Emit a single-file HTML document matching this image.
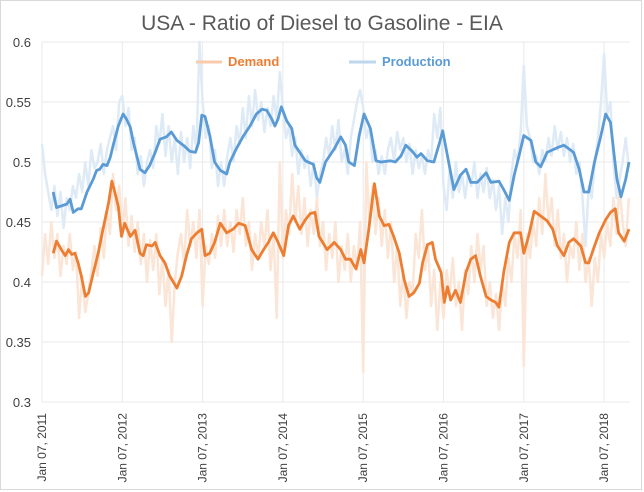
<!DOCTYPE html>
<html><head><meta charset="utf-8"><style>
html,body{margin:0;padding:0;background:#fff;}
svg{display:block;font-family:"Liberation Sans",sans-serif;}
</style></head><body>
<svg id="chart" width="644" height="492" viewBox="0 0 644 492">
<rect x="0.5" y="0.5" width="641" height="489" fill="#fff" stroke="#d9d9d9"/>
<text x="322" y="30" text-anchor="middle" font-size="21" fill="#595959">USA - Ratio of Diesel to Gasoline - EIA</text>
<g id="grid"></g>
<g id="yticks"></g>
<g id="xticks"></g>
<g id="series"></g>
<g>
<g>
<line x1="196" y1="62" x2="222" y2="62" stroke="#F8CBAD" stroke-width="3"/>
<text x="228" y="66" font-size="13" font-weight="bold" fill="#ED7D31">Demand</text>
</g>
<g>
<line x1="349" y1="62" x2="376" y2="62" stroke="#BDD7EE" stroke-width="3"/>
<text x="382" y="66" font-size="13" font-weight="bold" fill="#5B9BD5">Production</text>
</g>
</g>
</svg>
<script>
const yTicks=[0.3,0.35,0.4,0.45,0.5,0.55,0.6];
const yTickLabels=["0.3","0.35","0.4","0.45","0.5","0.55","0.6"];
const xTickYears=[0,1,2,3,4,5,6,7];
const xTickLabels=["Jan 07, 2011","Jan 07, 2012","Jan 07, 2013","Jan 07, 2014","Jan 07, 2015","Jan 07, 2016","Jan 07, 2017","Jan 07, 2018"];
// raw series, biweekly samples starting Jan 07 2011
const demandRaw=[0.405,0.44,0.415,0.45,0.42,0.44,0.405,0.43,0.415,0.44,0.41,0.425,0.37,0.405,0.375,0.39,0.41,0.43,0.405,0.445,0.42,0.46,0.44,0.49,0.46,0.48,
0.44,0.47,0.43,0.455,0.425,0.45,0.415,0.44,0.40,0.435,0.41,0.44,0.39,0.42,0.38,0.41,0.35,0.40,0.425,0.44,0.415,0.46,0.43,0.45,0.42,0.46,
0.38,0.43,0.415,0.44,0.42,0.455,0.43,0.46,0.43,0.45,0.425,0.46,0.44,0.47,0.43,0.45,0.41,0.44,0.42,0.45,0.43,0.46,0.41,0.44,0.37,0.50,
0.42,0.46,0.44,0.49,0.45,0.48,0.44,0.47,0.43,0.46,0.44,0.47,0.43,0.45,0.41,0.44,0.42,0.45,0.40,0.43,0.41,0.44,0.40,0.43,0.41,0.45,
0.325,0.50,0.45,0.48,0.44,0.47,0.43,0.46,0.42,0.45,0.40,0.43,0.38,0.41,0.37,0.40,0.39,0.44,0.42,0.46,0.41,0.43,0.38,0.41,0.36,0.40,
0.37,0.41,0.39,0.42,0.38,0.40,0.36,0.41,0.39,0.43,0.40,0.44,0.41,0.43,0.38,0.40,0.37,0.39,0.36,0.40,0.38,0.42,0.40,0.44,0.42,0.46,
0.33,0.44,0.42,0.45,0.43,0.47,0.44,0.49,0.45,0.47,0.43,0.46,0.42,0.44,0.40,0.43,0.42,0.45,0.41,0.44,0.40,0.42,0.38,0.42,0.40,0.44,
0.42,0.45,0.43,0.47,0.44,0.48,0.45,0.43,0.47];
const productionRaw=[0.515,0.49,0.475,0.46,0.48,0.455,0.475,0.445,0.47,0.46,0.48,0.47,0.49,0.475,0.50,0.48,0.51,0.495,0.50,0.515,0.49,0.51,0.52,0.53,0.51,0.55,
0.555,0.53,0.545,0.51,0.52,0.49,0.505,0.48,0.50,0.51,0.495,0.53,0.515,0.54,0.505,0.53,0.50,0.52,0.49,0.525,0.50,0.52,0.495,0.53,0.51,0.60,
0.55,0.52,0.53,0.495,0.51,0.48,0.50,0.48,0.505,0.52,0.50,0.53,0.515,0.545,0.52,0.555,0.53,0.56,0.535,0.55,0.525,0.545,0.53,0.555,0.535,0.575,
0.545,0.52,0.53,0.505,0.52,0.49,0.51,0.495,0.505,0.48,0.50,0.47,0.49,0.50,0.52,0.505,0.53,0.51,0.535,0.50,0.51,0.49,0.52,0.535,0.55,0.56,
0.545,0.52,0.53,0.50,0.51,0.49,0.505,0.49,0.51,0.52,0.50,0.525,0.51,0.52,0.50,0.515,0.49,0.51,0.495,0.505,0.49,0.51,0.50,0.54,0.52,0.545,
0.48,0.46,0.495,0.47,0.50,0.475,0.49,0.47,0.49,0.48,0.50,0.47,0.49,0.475,0.495,0.47,0.485,0.46,0.48,0.44,0.47,0.45,0.49,0.51,0.50,0.525,
0.58,0.53,0.52,0.50,0.505,0.49,0.51,0.50,0.52,0.505,0.53,0.51,0.525,0.505,0.52,0.50,0.515,0.49,0.50,0.47,0.43,0.48,0.47,0.50,0.52,0.55,
0.59,0.54,0.55,0.50,0.47,0.485,0.50,0.52,0.495];
// smoothed series: time in years since Jan 07 2011, values
const prodAvgT=[0.14,0.18,0.31,0.35,0.39,0.45,0.49,0.56,0.64,0.68,0.72,0.76,0.81,0.85,0.89,0.95,1.01,1.05,1.10,1.14,1.18,1.22,1.28,1.34,1.41,1.47,1.55,1.61,1.68,1.76,1.84,1.91,1.95,1.99,2.03,2.09,2.15,2.22,2.30,2.34,2.42,2.51,2.59,2.67,2.74,2.80,2.86,2.90,2.94,2.98,3.05,3.11,3.15,3.21,3.28,3.38,3.42,3.46,3.53,3.64,3.72,3.78,3.82,3.89,3.95,4.01,4.09,4.16,4.22,4.34,4.40,4.47,4.53,4.61,4.67,4.72,4.80,4.88,4.95,4.99,5.05,5.13,5.21,5.28,5.34,5.42,5.53,5.59,5.69,5.75,5.82,5.88,5.94,6.00,6.09,6.15,6.21,6.29,6.42,6.50,6.56,6.62,6.69,6.75,6.81,6.88,6.96,7.02,7.08,7.12,7.16,7.21,7.27,7.31];
const prodAvg=[0.475,0.462,0.465,0.469,0.458,0.461,0.461,0.475,0.486,0.493,0.494,0.498,0.497,0.504,0.515,0.530,0.540,0.536,0.529,0.516,0.505,0.494,0.491,0.497,0.508,0.519,0.521,0.525,0.518,0.514,0.509,0.508,0.516,0.539,0.538,0.522,0.500,0.493,0.490,0.500,0.511,0.522,0.530,0.540,0.544,0.543,0.536,0.530,0.536,0.546,0.534,0.528,0.514,0.508,0.501,0.498,0.487,0.483,0.500,0.511,0.521,0.514,0.500,0.497,0.522,0.540,0.528,0.501,0.500,0.501,0.500,0.505,0.514,0.509,0.504,0.507,0.501,0.500,0.516,0.526,0.505,0.477,0.489,0.494,0.483,0.483,0.491,0.483,0.484,0.477,0.468,0.489,0.505,0.522,0.518,0.500,0.496,0.508,0.512,0.514,0.511,0.508,0.494,0.475,0.475,0.500,0.522,0.540,0.533,0.509,0.486,0.471,0.486,0.500];
const demAvgT=[0.14,0.18,0.24,0.29,0.33,0.37,0.41,0.45,0.49,0.54,0.58,0.64,0.70,0.76,0.83,0.87,0.91,0.95,0.99,1.03,1.10,1.16,1.22,1.26,1.30,1.37,1.41,1.47,1.53,1.59,1.68,1.74,1.80,1.86,1.93,1.99,2.03,2.09,2.15,2.22,2.30,2.38,2.45,2.53,2.61,2.69,2.76,2.82,2.88,2.94,3.01,3.07,3.13,3.21,3.28,3.34,3.40,3.45,3.55,3.64,3.72,3.78,3.84,3.91,3.97,4.01,4.07,4.14,4.20,4.26,4.32,4.38,4.45,4.51,4.57,4.63,4.70,4.74,4.80,4.86,4.90,4.97,5.01,5.05,5.09,5.15,5.21,5.28,5.34,5.40,5.46,5.53,5.59,5.65,5.69,5.75,5.82,5.88,5.96,6.00,6.06,6.13,6.21,6.29,6.36,6.42,6.50,6.56,6.62,6.71,6.77,6.81,6.88,6.94,7.02,7.08,7.14,7.18,7.25,7.31];
const demAvg=[0.424,0.434,0.427,0.422,0.427,0.423,0.424,0.416,0.405,0.388,0.391,0.408,0.424,0.444,0.466,0.484,0.474,0.463,0.438,0.449,0.438,0.443,0.424,0.422,0.431,0.430,0.433,0.422,0.416,0.405,0.395,0.405,0.422,0.436,0.441,0.444,0.422,0.424,0.433,0.449,0.441,0.444,0.449,0.447,0.427,0.419,0.427,0.433,0.441,0.433,0.422,0.447,0.455,0.444,0.452,0.457,0.458,0.438,0.427,0.433,0.427,0.419,0.419,0.411,0.427,0.416,0.444,0.482,0.455,0.447,0.448,0.438,0.424,0.402,0.388,0.391,0.399,0.416,0.431,0.433,0.419,0.408,0.383,0.396,0.385,0.393,0.383,0.408,0.419,0.422,0.405,0.388,0.385,0.383,0.379,0.408,0.433,0.441,0.441,0.424,0.438,0.459,0.455,0.451,0.444,0.430,0.422,0.433,0.436,0.430,0.416,0.416,0.430,0.441,0.452,0.458,0.461,0.441,0.434,0.444];

const NS="http://www.w3.org/2000/svg";
const X0=42,PX_PER_YEAR=80.3,Y0=402,PX_PER_UNIT=1200;
function xScale(t){return X0+t*PX_PER_YEAR;}
function yScale(v){return Y0-(v-0.3)*PX_PER_UNIT;}
function mk(tag,attrs,parent){const e=document.createElementNS(NS,tag);for(const k in attrs)e.setAttribute(k,attrs[k]);parent.appendChild(e);return e;}
const grid=document.getElementById('grid'),yg=document.getElementById('yticks'),xg=document.getElementById('xticks'),sg=document.getElementById('series');
yTicks.forEach((v,i)=>{
  const l=mk('line',{x1:X0,x2:630,y1:yScale(v),y2:yScale(v),stroke:'#eaeaea','stroke-width':1},grid);
  
  
  const t=mk('text',{x:31,y:yScale(v)+5,'text-anchor':'end','font-size':13,fill:'#404040'},yg);
  t.textContent=yTickLabels[i];
  
  
});
xTickYears.forEach((yr,i)=>{
  const x=xScale(yr);
  const l=mk('line',{x1:x,x2:x,y1:yScale(0.6),y2:Y0,stroke:'#eaeaea','stroke-width':1},grid);
  
  
  const t=mk('text',{transform:`translate(${x+4},413) rotate(-90)`,'text-anchor':'end','font-size':12,fill:'#404040'},xg);
  t.textContent=xTickLabels[i];
  
  
});
function pathFrom(ts,vs){return vs.map((v,i)=>(i?'L':'M')+xScale(ts[i]).toFixed(1)+','+yScale(v).toFixed(1)).join(' ');}
const rawT=demandRaw.map((_,i)=>i/26);
const rawTP=productionRaw.map((_,i)=>i/26);
const p1=mk('path',{d:pathFrom(rawTP,productionRaw),fill:'none',stroke:'#DEEBF7','stroke-width':2.5,'stroke-linejoin':'round'},sg);


const p2=mk('path',{d:pathFrom(rawT,demandRaw),fill:'none',stroke:'#FBE5D6','stroke-width':2.5,'stroke-linejoin':'round'},sg);


const p3=mk('path',{d:pathFrom(prodAvgT,prodAvg),fill:'none',stroke:'#5B9BD5','stroke-width':2.8,'stroke-linejoin':'round'},sg);


const p4=mk('path',{d:pathFrom(demAvgT,demAvg),fill:'none',stroke:'#ED7D31','stroke-width':2.8,'stroke-linejoin':'round'},sg);


</script>
</body></html>
